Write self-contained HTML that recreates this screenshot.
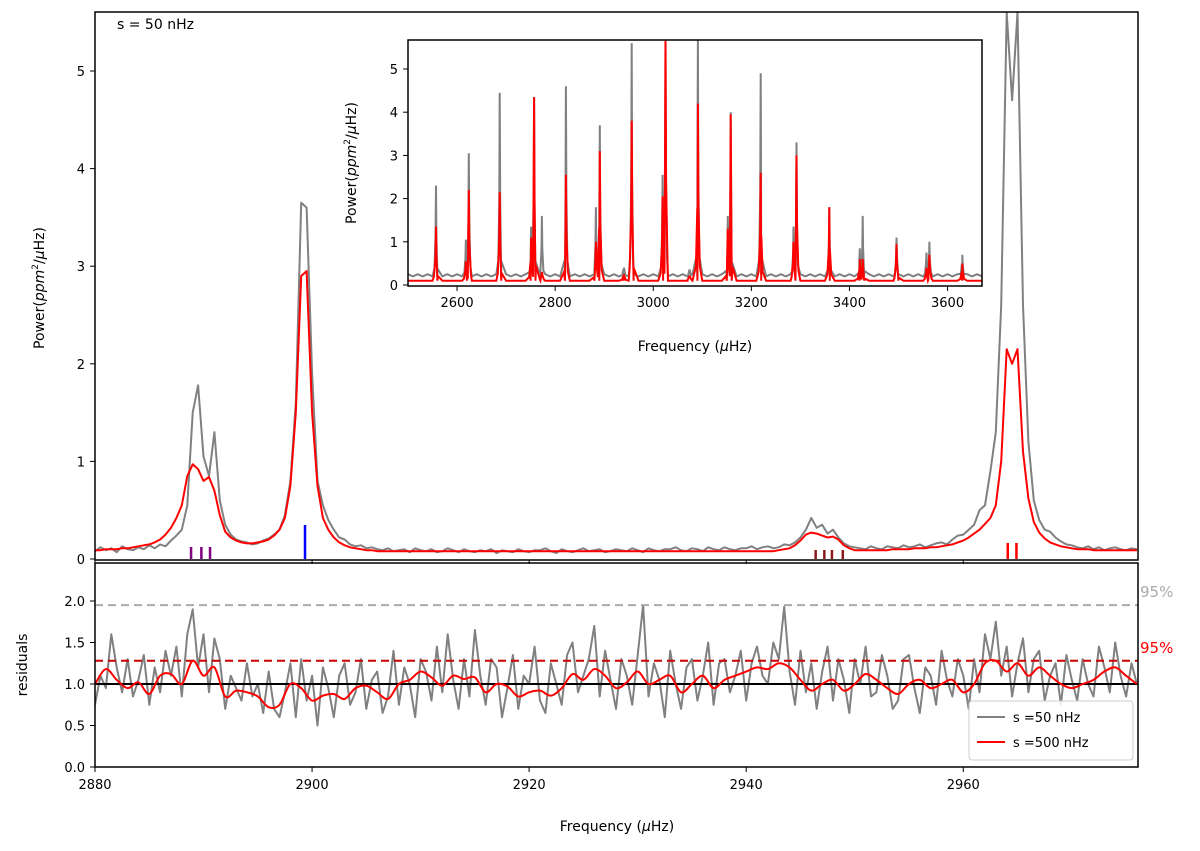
<!DOCTYPE html>
<html><head><meta charset="utf-8">
<style>
html,body{margin:0;padding:0;background:#fff;}
svg{display:block;font-family:"DejaVu Sans","Liberation Sans",sans-serif;}
</style></head>
<body>
<svg id="chart" width="1200" height="851" viewBox="0 0 1200 851" xmlns="http://www.w3.org/2000/svg"></svg>
<script>
// ===== data =====
const freqStart = 2880, freqStep = 0.5;
const powerGray = [.08,.12,.09,.11,.07,.13,.10,.09,.12,.10,.14,.11,.15,.13,.19,.24,.30,.55,1.50,1.78,1.05,.85,1.30,.60,.35,.25,.20,.18,.17,.15,.16,.19,.21,.25,.30,.45,.80,1.60,3.65,3.60,1.90,.80,.55,.40,.30,.22,.20,.15,.13,.14,.11,.12,.10,.09,.11,.08,.09,.10,.07,.11,.09,.08,.10,.07,.08,.11,.09,.07,.10,.08,.07,.09,.08,.10,.06,.09,.08,.07,.10,.08,.07,.09,.09,.11,.08,.06,.10,.08,.07,.09,.11,.08,.09,.10,.07,.08,.10,.09,.08,.11,.09,.07,.11,.09,.08,.10,.10,.12,.09,.08,.11,.10,.08,.12,.10,.09,.12,.10,.09,.11,.11,.13,.10,.12,.13,.11,.12,.15,.14,.17,.22,.30,.42,.32,.35,.26,.30,.22,.16,.13,.12,.11,.10,.13,.11,.10,.13,.12,.11,.14,.12,.13,.15,.12,.14,.16,.17,.15,.20,.24,.25,.30,.35,.50,.55,.90,1.30,2.60,5.60,4.70,5.60,2.60,1.20,.60,.40,.30,.28,.22,.18,.15,.14,.12,.11,.13,.10,.12,.09,.11,.12,.10,.09,.11,.10];
const powerFit = [
 .09,.09,.10,.10,.10,.11,.11,.12,.13,.14,.15,.17,.20,.25,.32,.42,.55,.85,.97,.92,.80,.84,.70,.45,.28,.22,.19,.17,.16,.16,.17,.18,.20,.24,.30,.42,.75,1.50,2.90,2.95,1.50,.75,.42,.30,.22,.17,.14,.12,.11,.10,.09,.09,.08,.08,
 .08,.08,.08,.08,.08,.08,.08,.08,.08,.08,.08,.08,
 .08,.08,.08,.08,.08,.08,.08,.08,.08,.08,.08,.08,
 .08,.08,.08,.08,.08,.08,.08,.08,.08,.08,.08,.08,
 .08,.08,.08,.08,.08,.08,.08,.08,.08,.08,.08,.08,
 .08,.08,.08,.08,.08,.08,.08,.08,.08,.08,.08,.08,
 .08,.08,.08,.08,.08,.08,.08,.08,.08,.08,.08,.08,
 .09,.10,.11,.14,.19,.25,.27,.26,.24,.22,.23,.20,.14,.11,.09,.09,
 .09,.09,.09,.09,.09,.10,.10,.10,.10,.11,.11,.11,.12,.12,.13,.14,.15,.17,.19,.22,.26,.30,.36,.42,.55,1.00,2.15,2.00,2.15,1.10,.62,.38,.27,.21,.17,.15,.13,.12,.11,.10,.10,.10,.09,.09,.09,.09,.09,.09,.09,.09,.09];
const residGray = [.75,1.1,.95,1.6,1.2,.9,1.3,.85,1.05,1.35,.75,1.2,.9,1.4,1.1,1.45,.85,1.6,1.9,1.2,1.6,.9,1.55,1.3,.7,1.1,.95,.8,1.25,.85,1.0,.65,1.15,.7,.6,.9,1.25,.6,1.3,.8,1.1,.5,1.2,.95,.6,1.1,1.25,.75,.9,1.3,.7,1.05,1.15,.65,.85,1.4,.75,1.2,1.0,.6,1.3,1.15,.8,1.45,.9,1.6,1.05,.7,1.3,.85,1.65,1.1,.75,1.3,1.2,.6,.95,1.35,.7,1.1,1.0,1.45,.8,.65,1.25,1.0,.75,1.35,1.5,.9,1.1,1.3,1.7,.85,1.4,1.05,.7,1.3,1.1,.75,1.35,1.95,.85,1.25,1.05,.6,1.4,1.0,.7,1.2,1.3,.8,1.1,1.5,.75,1.25,1.3,.9,1.1,1.4,.8,1.25,1.45,1.1,1.0,1.5,1.3,1.93,1.15,.75,1.4,.9,1.25,.7,1.15,1.45,.8,1.3,1.05,.65,1.3,1.0,1.45,.85,.9,1.35,1.1,.7,.8,1.3,1.35,.95,.65,1.2,1.1,.75,1.4,1.05,.85,1.3,1.1,.7,1.3,.9,1.6,1.3,1.75,1.1,1.45,.85,1.25,1.55,.9,1.3,1.4,.8,1.1,1.25,.75,1.35,1.05,.8,1.3,1.0,.85,1.45,1.2,.9,1.5,1.1,.85,1.25,1.0];
const residFitStep = 1;
const residFit = [1.0,1.18,1.05,.95,1.02,.88,1.1,1.12,1.0,1.28,1.1,1.2,.85,.92,.9,.85,.72,.75,1.0,.95,.8,.86,.88,.82,.95,.98,.9,.82,1.0,1.05,1.15,1.08,.98,1.1,1.06,1.08,.9,1.0,.97,.85,.9,.92,.86,.95,1.12,1.05,1.18,1.1,.95,1.02,1.15,1.0,1.05,1.1,.9,1.0,1.1,.95,1.05,1.1,1.15,1.2,1.18,1.25,1.2,1.05,.92,1.0,1.05,.92,1.0,1.12,1.05,.95,.88,1.0,1.05,.95,1.0,1.05,.9,1.0,1.25,1.28,1.15,1.25,1.1,1.2,1.1,1.0,.95,1.0,1.05,1.15,1.2,1.1,1.0];
const threshGray = 1.95, threshRed = 1.28;
const modeFreqPurple = [2888.85, 2889.8, 2890.6];
const modeFreqBlue = [2899.35];
const modeFreqBrown = [2946.4, 2947.2, 2947.9, 2948.9];
const modeFreqRed = [2964.1, 2964.9];
const mainYTicks = [0,1,2,3,4,5];
const resYTicks = [0.0,0.5,1.0,1.5,2.0];
const xTicks = [2880,2900,2920,2940,2960];
// inset
const insetPeakFreq = [2557,2618,2624,2687,2751,2757,2773,2822,2883,2891,2940,2956,3019,3025,3074,3091,3152,3158,3219,3286,3292,3359,3421,3427,3496,3557,3563,3630];
const insetPeakGray = [2.3,1.05,3.05,4.45,1.35,4.35,1.6,4.6,1.8,3.7,0.4,5.6,2.55,5.7,0.3,5.7,1.6,4.0,4.9,1.35,3.3,1.8,0.85,1.6,1.1,0.75,1.0,0.7];
const insetPeakFit = [1.35,0.55,2.2,2.15,1.1,4.35,0.3,2.55,1.0,3.1,0.25,3.8,2.05,5.7,0.2,4.2,1.3,3.95,2.6,1.0,3.0,1.8,0.6,0.6,0.95,0.4,0.7,0.5];
const insetXTicks = [2600,2800,3000,3200,3400,3600];
const insetYTicks = [0,1,2,3,4,5];

// ===== drawing =====
const svg = document.getElementById('chart');
const NS = 'http://www.w3.org/2000/svg';
function mk(tag, attrs, parent){ const e=document.createElementNS(NS,tag); for(const k in attrs) e.setAttribute(k,attrs[k]); (parent||svg).appendChild(e); return e; }
function txt(s, x, y, attrs, parent){ const e=mk('text',Object.assign({x:x,y:y,'font-size':13,fill:'#000'},attrs),parent); e.textContent=s; return e; }

const L=95, R=1138, T1=12, B1=560, T2=563, B2=767;
const xS = f => L + (f-2880)*(R-L)/(2976.1-2880);
const yM = v => 559 - v*97.6;
const yR = v => 767 - v*83;

function poly(vals, x0, step, ys, color, w, name, parent){
  let d=''; vals.forEach((v,i)=>{ const x=xS(x0+i*step), y=Math.max(ys(v),-100); d+=(i?'L':'M')+x.toFixed(1)+' '+y.toFixed(1); });
  const p=mk('path',{d:d,fill:'none',stroke:color,'stroke-width':w,'stroke-linejoin':'round'},parent);
  
  
  return p;
}
function smooth(vals, x0, step, ys, color, w, name, parent){
  const pts=vals.map((v,i)=>[xS(x0+i*step), ys(v)]);
  let d='M'+pts[0][0]+' '+pts[0][1];
  for(let i=0;i<pts.length-1;i++){
    const p0=pts[Math.max(i-1,0)],p1=pts[i],p2=pts[i+1],p3=pts[Math.min(i+2,pts.length-1)];
    d+='C'+(p1[0]+(p2[0]-p0[0])/6)+' '+(p1[1]+(p2[1]-p0[1])/6)+' '+(p2[0]-(p3[0]-p1[0])/6)+' '+(p2[1]-(p3[1]-p1[1])/6)+' '+p2[0]+' '+p2[1];
  }
  const p=mk('path',{d:d,fill:'none',stroke:color,'stroke-width':w},parent);
  
  
}

// clips
const defs=mk('defs',{});
const c1=mk('clipPath',{id:'c1'},defs); mk('rect',{x:L,y:T1,width:R-L,height:B1-T1},c1);
const c2=mk('clipPath',{id:'c2'},defs); mk('rect',{x:L,y:T2,width:R-L,height:B2-T2},c2);
const c3=mk('clipPath',{id:'c3'},defs); mk('rect',{x:408,y:40,width:574,height:246},c3);

// --- main panel ---
const g1=mk('g',{'clip-path':'url(#c1)'});


poly(powerGray, freqStart, freqStep, yM, '#808080', 2, 'power-spectrum-gray', g1);
poly(powerFit, freqStart, freqStep, yM, '#ff0000', 2, 'power-fit-red', g1);
function marks(arr,color,h,name){ arr.forEach(f=>{ const l=mk('line',{x1:xS(f),x2:xS(f),y1:559,y2:559-h,stroke:color,'stroke-width':2.5},g1);   }); }
marks(modeFreqPurple,'#800080',12,'mode-marker-purple');
marks(modeFreqBlue,'#0000ff',34,'mode-marker-blue');
marks(modeFreqBrown,'#8b1a1a',9,'mode-marker-brown');
marks(modeFreqRed,'#ff0000',16,'mode-marker-red');
const f1=mk('rect',{x:L,y:T1,width:R-L,height:B1-T1,fill:'none',stroke:'#000','stroke-width':1.5});
 
mainYTicks.forEach(v=>{ mk('line',{x1:L-5,x2:L,y1:yM(v),y2:yM(v),stroke:'#000','stroke-width':1}); const t=txt(String(v),L-10,yM(v)+5,{'text-anchor':'end'});   });
xTicks.forEach(f=>{ mk('line',{x1:xS(f),x2:xS(f),y1:B1,y2:B1+4,stroke:'#000','stroke-width':1}); });
const yt=txt('',0,0,{transform:'translate(44,288) rotate(-90)','text-anchor':'middle','font-size':14});
yt.innerHTML='Power(<tspan font-style="italic">ppm</tspan><tspan font-size="9" dy="-6">2</tspan><tspan dy="6">/</tspan><tspan font-style="italic">μ</tspan>Hz)';
 
const st=txt('s = 50 nHz',117,29,{'font-size':14});  

// --- residual panel ---
const g2=mk('g',{'clip-path':'url(#c2)'});


poly(residGray, freqStart, freqStep, yR, '#808080', 2, 'residuals-gray', g2);
const gl=mk('line',{x1:L,x2:R,y1:yR(threshGray),y2:yR(threshGray),stroke:'#aaaaaa','stroke-width':2,'stroke-dasharray':'8,5'},g2);
 
const rl=mk('line',{x1:L,x2:R,y1:yR(threshRed),y2:yR(threshRed),stroke:'#cc0000','stroke-width':2,'stroke-dasharray':'8,5'},g2);
 
const bl=mk('line',{x1:L,x2:R,y1:yR(1),y2:yR(1),stroke:'#000','stroke-width':2},g2);
 
smooth(residFit, freqStart, residFitStep, yR, '#ff0000', 2, 'residuals-fit-red', g2);
const f2=mk('rect',{x:L,y:T2,width:R-L,height:B2-T2,fill:'none',stroke:'#000','stroke-width':1.5});
 
resYTicks.forEach(v=>{ mk('line',{x1:L-5,x2:L,y1:yR(v),y2:yR(v),stroke:'#000','stroke-width':1}); const t=txt(v.toFixed(1),L-10,yR(v)+5,{'text-anchor':'end'});   });
xTicks.forEach(f=>{ mk('line',{x1:xS(f),x2:xS(f),y1:B2,y2:B2+5,stroke:'#000','stroke-width':1}); const t=txt(String(f),xS(f),B2+22,{'text-anchor':'middle'});   });
const p1=txt('95%',1140,597,{fill:'#aaaaaa','font-size':15});  
const p2=txt('95%',1140,653,{fill:'#ff0000','font-size':15});  
const rt=txt('residuals',0,0,{transform:'translate(27,665) rotate(-90)','text-anchor':'middle','font-size':14});  
const xt=txt('',617,831,{'text-anchor':'middle','font-size':14}); xt.innerHTML='Frequency (<tspan font-style="italic">μ</tspan>Hz)';
 

// legend
const lg=mk('g',{});  
mk('rect',{x:969,y:701,width:164,height:59,rx:3,fill:'#fff','fill-opacity':0.85,stroke:'#ccc'},lg);
const le1=mk('line',{x1:977,x2:1005,y1:717,y2:717,stroke:'#808080','stroke-width':2},lg);  
const lt1=txt('s =50 nHz',1013,722,{},lg);  
const le2=mk('line',{x1:977,x2:1005,y1:742,y2:742,stroke:'#ff0000','stroke-width':2},lg);  
const lt2=txt('s =500 nHz',1013,747,{},lg);  

// --- inset ---
const iX = f => 408 + (f-2500)*0.4905;
const iY = v => 285 - v*43.2;
const ig=mk('g',{});  
mk('rect',{x:408,y:40,width:574,height:246,fill:'#fff'},ig);
const ic=mk('g',{'clip-path':'url(#c3)'},ig);
function insetPath(heights, base, hw, wiggle){
  const pts=[];
  for(let f=2500; f<=3680; f+=10){ pts.push([f, base + ((f/10)%2===0 ? wiggle : 0)]); }
  insetPeakFreq.forEach((pf,i)=>{ pts.push([pf-hw, base+heights[i]*0.08],[pf-hw*0.3, base+heights[i]*0.4],[pf, heights[i]],[pf+hw*0.3, base+heights[i]*0.4],[pf+hw, base+heights[i]*0.08]); });
  pts.sort((a,b)=>a[0]-b[0]);
  return pts.map((p,i)=>(i?'L':'M')+iX(p[0]).toFixed(1)+' '+iY(p[1]).toFixed(1)).join('');
}
const ip1=mk('path',{d:insetPath(insetPeakGray,0.2,3,0.05),fill:'none',stroke:'#808080','stroke-width':2},ic);
 
const ip2=mk('path',{d:insetPath(insetPeakFit,0.1,4,0),fill:'none',stroke:'#ff0000','stroke-width':2},ic);
 
const f3=mk('rect',{x:408,y:40,width:574,height:246,fill:'none',stroke:'#000','stroke-width':1.5},ig);
 
insetXTicks.forEach(f=>{ mk('line',{x1:iX(f),x2:iX(f),y1:286,y2:291,stroke:'#000'},ig); const t=txt(String(f),iX(f),307,{'text-anchor':'middle'},ig);   });
insetYTicks.forEach(v=>{ mk('line',{x1:403,x2:408,y1:iY(v),y2:iY(v),stroke:'#000'},ig); const t=txt(String(v),398,iY(v)+5,{'text-anchor':'end'},ig);   });
const ixt=txt('',695,351,{'text-anchor':'middle','font-size':14},ig); ixt.innerHTML='Frequency (<tspan font-style="italic">μ</tspan>Hz)';
 
const iyt=txt('',0,0,{transform:'translate(356,163) rotate(-90)','text-anchor':'middle','font-size':14},ig);
iyt.innerHTML='Power(<tspan font-style="italic">ppm</tspan><tspan font-size="9" dy="-6">2</tspan><tspan dy="6">/</tspan><tspan font-style="italic">μ</tspan>Hz)';
 
</script>
</body></html>
